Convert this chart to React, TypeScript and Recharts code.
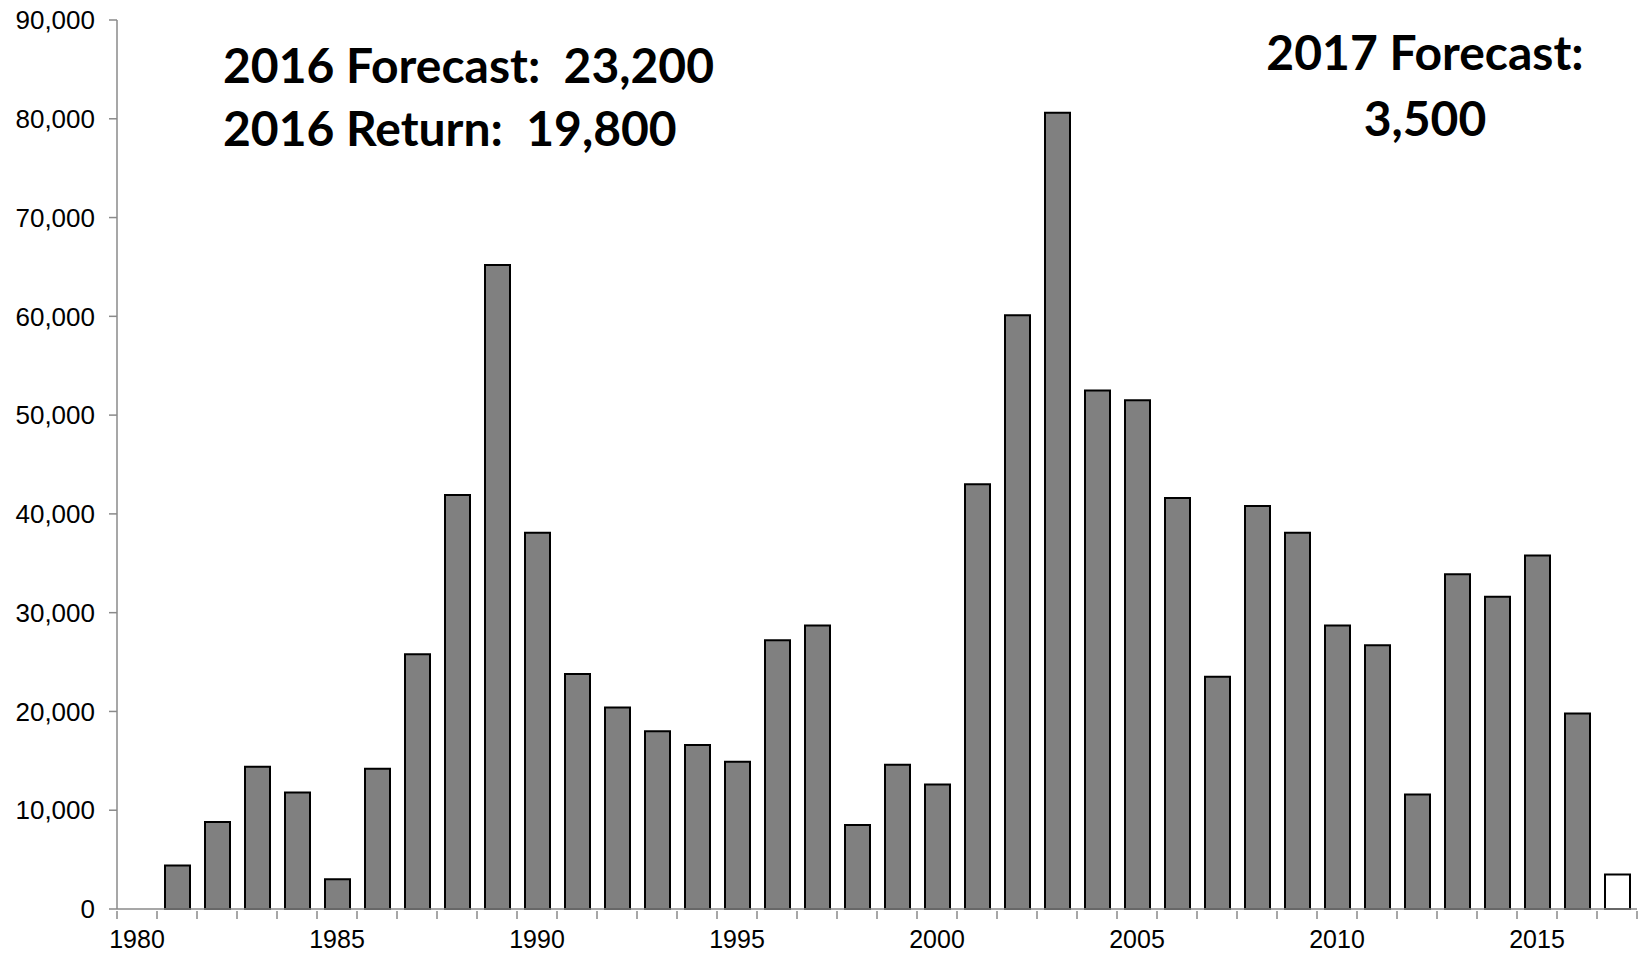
import React from 'react';
import { BarChart, Bar, XAxis, YAxis, Cell } from 'recharts';

const years = [
  1980, 1981, 1982, 1983, 1984, 1985, 1986, 1987, 1988, 1989,
  1990, 1991, 1992, 1993, 1994, 1995, 1996, 1997, 1998, 1999,
  2000, 2001, 2002, 2003, 2004, 2005, 2006, 2007, 2008, 2009,
  2010, 2011, 2012, 2013, 2014, 2015, 2016, 2017,
];

// returns per year (1980 has no bar, 2017 is the forecast)
const returns = [
  0, 4400, 8800, 14400, 11800, 3000, 14200, 25800, 41900, 65200,
  38100, 23800, 20400, 18000, 16600, 14900, 27200, 28700, 8500, 14600,
  12600, 43000, 60100, 80600, 52500, 51500, 41600, 23500, 40800, 38100,
  28700, 26700, 11600, 33900, 31600, 35800, 19800, 3500,
];

const forecastYears = [2017];

const yTicks = [0, 10000, 20000, 30000, 40000, 50000, 60000, 70000, 80000, 90000];

const data = years.map((y, i) => ({ year: y, value: returns[i] || null }));

const W = 1641;
const H = 954;
const Y_AXIS_W = 117;
const RIGHT = 4;
const BAND = (W - Y_AXIS_W - RIGHT) / years.length;

const AXIS_GREY = '#8a8a8a';
const FONT = '"Liberation Sans", Arial, sans-serif';

const YearTick = (props: any) => {
  const { x, y, payload, index } = props;
  const half = BAND / 2;
  const showLabel = payload.value % 5 === 0;
  return (
    <g>
      <line x1={x - half} y1={y} x2={x - half} y2={y + 8} stroke={AXIS_GREY} strokeWidth={1.5} />
      {index === years.length - 1 && (
        <line x1={x + half} y1={y} x2={x + half} y2={y + 8} stroke={AXIS_GREY} strokeWidth={1.5} />
      )}
      {showLabel && (
        <text x={x} y={y + 37} textAnchor="middle" fill="#000" fontSize={25} fontFamily={FONT}>
          {payload.value}
        </text>
      )}
    </g>
  );
};

const noteStyle: React.CSSProperties = {
  position: 'absolute',
  fontFamily: 'Lato, "Open Sans", sans-serif',
  fontWeight: 700,
  fontSize: 48,
  color: '#000',
  whiteSpace: 'pre',
  lineHeight: '48px',
};

export default function App() {
  return (
    <div style={{ position: 'absolute', left: 0, top: 0, width: W, height: H, background: '#fff' }}>
      <BarChart
        width={W}
        height={H}
        data={data}
        margin={{ top: 20, right: RIGHT, left: 0, bottom: 0 }}
        barSize={25}
      >
        <XAxis
          dataKey="year"
          interval={0}
          height={45}
          tickSize={0}
          tickLine={false}
          axisLine={{ stroke: AXIS_GREY, strokeWidth: 1.5 }}
          tick={<YearTick />}
        />
        <YAxis
          width={Y_AXIS_W}
          domain={[0, 90000]}
          ticks={yTicks}
          interval={0}
          tickSize={8}
          tickMargin={14}
          axisLine={{ stroke: AXIS_GREY, strokeWidth: 1.5 }}
          tickLine={{ stroke: AXIS_GREY, strokeWidth: 1.5 }}
          tick={{ fill: '#000', fontSize: 26, fontFamily: FONT }}
          tickFormatter={(v: number) => v.toLocaleString('en-US')}
        />
        <Bar dataKey="value" stroke="#000" strokeWidth={2} isAnimationActive={false}>
          {data.map((d) => (
            <Cell key={d.year} fill={forecastYears.includes(d.year) ? '#ffffff' : '#808080'} />
          ))}
        </Bar>
      </BarChart>

      <div style={{ ...noteStyle, left: 223, top: 41 }}>{'2016 Forecast:  23,200'}</div>
      <div style={{ ...noteStyle, left: 223, top: 104 }}>{'2016 Return:  19,800'}</div>
      <div style={{ ...noteStyle, left: 1225, top: 19, width: 400, textAlign: 'center', lineHeight: '66px' }}>
        {'2017 Forecast:\n3,500'}
      </div>
    </div>
  );
}
